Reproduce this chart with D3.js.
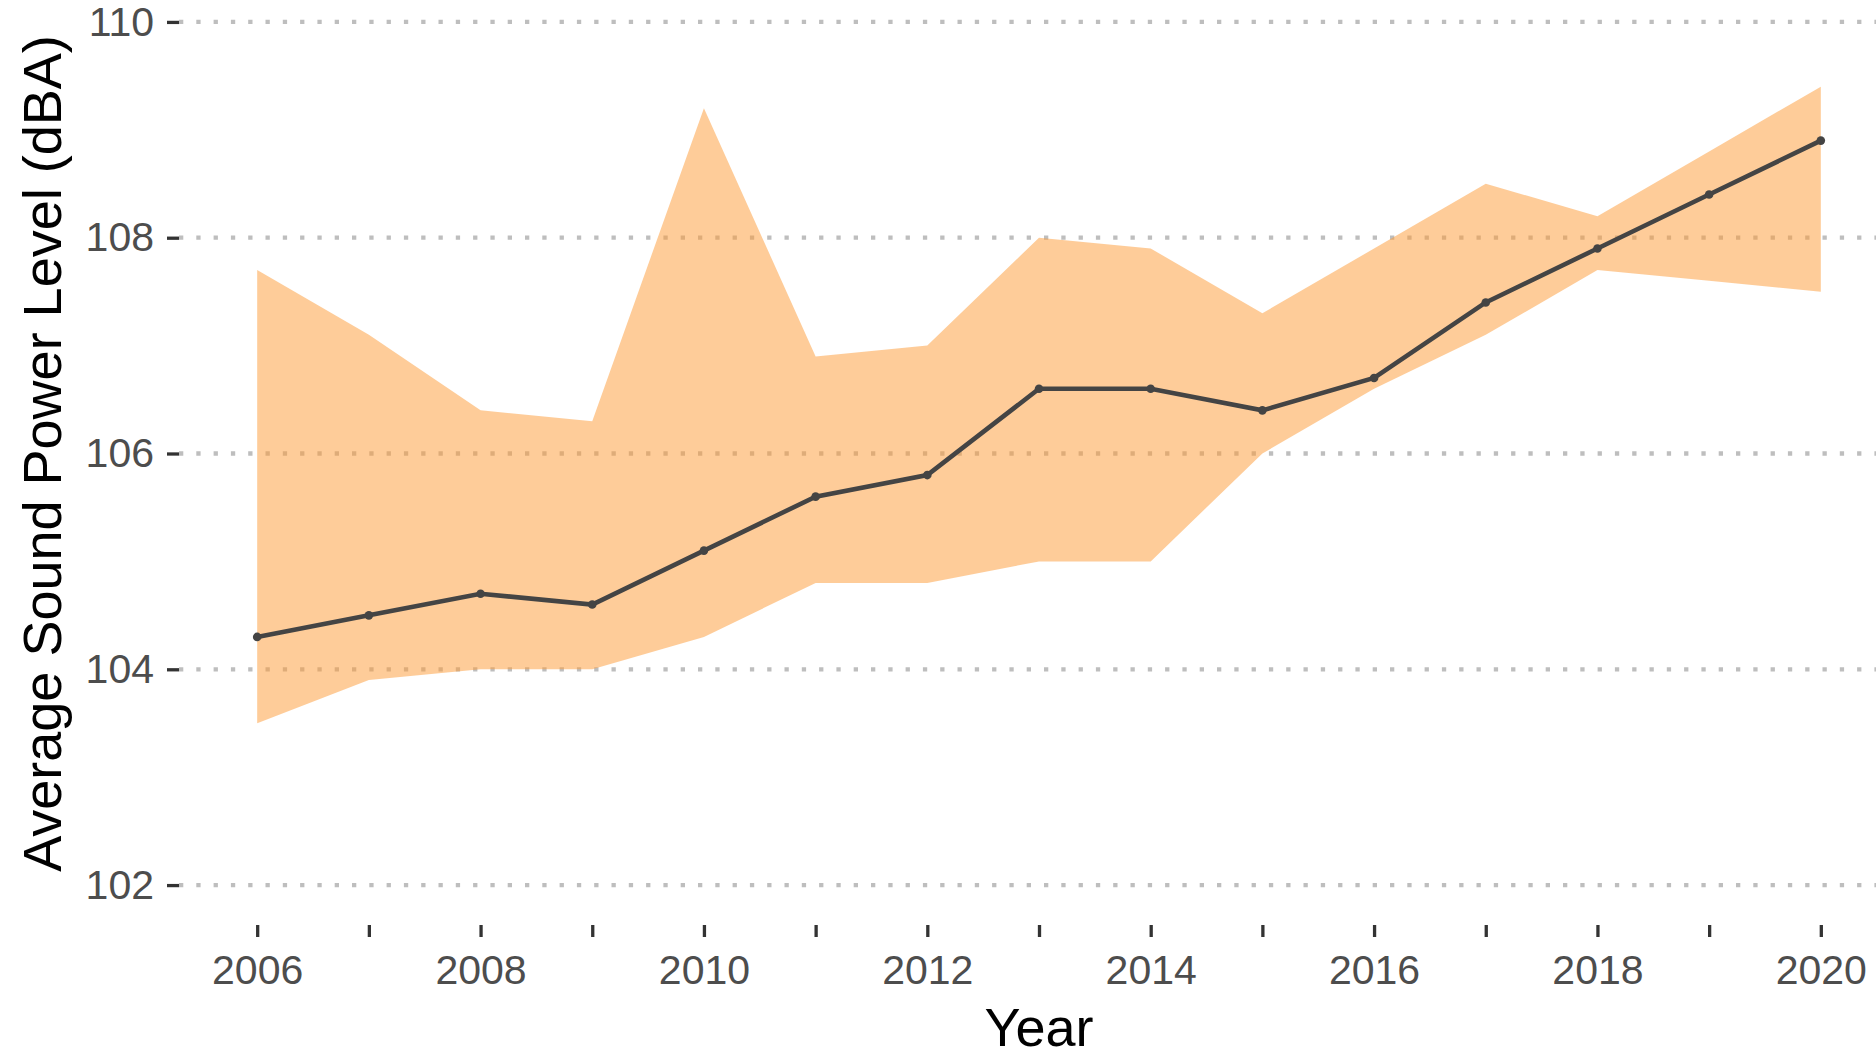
<!DOCTYPE html>
<html>
<head>
<meta charset="utf-8">
<script src="https://cdn.jsdelivr.net/npm/d3@7"></script>
<style>
  body { margin: 0; background: white; }
  #chart text { font-family: "Liberation Sans", Arial, sans-serif; }
</style>
</head>
<body>
<div id="chart"></div>
<script>
// data
const years = [2006, 2007, 2008, 2009, 2010, 2011, 2012, 2013, 2014, 2015, 2016, 2017, 2018, 2019, 2020];
const avgLevel = [104.3, 104.5, 104.7, 104.6, 105.1, 105.6, 105.8, 106.6, 106.6, 106.4, 106.7, 107.4, 107.9, 108.4, 108.9];
const upperLevel = [107.7, 107.1, 106.4, 106.3, 109.2, 106.9, 107.0, 108.0, 107.9, 107.3, 107.9, 108.5, 108.2, 108.8, 109.4];
const lowerLevel = [103.5, 103.9, 104.0, 104.0, 104.3, 104.8, 104.8, 105.0, 105.0, 106.0, 106.6, 107.1, 107.7, 107.6, 107.5];
const yTicks = [102, 104, 106, 108, 110];

const data = years.map((yr, i) => ({
  year: yr,
  avg: avgLevel[i],
  upper: upperLevel[i],
  lower: lowerLevel[i]
}));

let width = 1876;
let height = 1050;

let margin = {
  top: -18,
  bottom: 125,
  left: 179,
  right: -23
};

let svg = d3.select('#chart')
  .append('svg')
  .attr('width', width)
  .attr('height', height)
  .style('background', 'white');

// ggplot style expansion around the limits 2006-2020 / 102-110
let xScale = d3.scaleLinear()
  .domain([2005.3, 2020.7])
  .range([margin.left, width - margin.right]);

let yScale = d3.scaleLinear()
  .domain([101.63, 110.37])
  .range([height - margin.bottom, margin.top]);

// dotted horizontal grid
svg.append('g')
  .selectAll('line')
  .data(yTicks)
  .enter()
  .append('line')
  .attr('x1', margin.left)
  .attr('x2', width)
  .attr('y1', d => yScale(d))
  .attr('y2', d => yScale(d))
  .attr('stroke', '#bebebe')
  .attr('stroke-width', 4.3)
  .attr('stroke-dasharray', '4.3 13');

// range band
svg.append('path')
  .datum(data)
  .attr('fill', '#fe9a33')
  .attr('fill-opacity', 0.5)
  .attr('d', d3.area()
    .x(d => xScale(d.year))
    .y0(d => yScale(d.lower))
    .y1(d => yScale(d.upper))
  );

// average line and points
svg.append('path')
  .datum(data)
  .attr('fill', 'none')
  .attr('stroke', '#444444')
  .attr('stroke-width', 4.6)
  .attr('d', d3.line()
    .x(d => xScale(d.year))
    .y(d => yScale(d.avg))
  );

svg.append('g')
  .selectAll('circle')
  .data(data)
  .enter()
  .append('circle')
  .attr('cx', d => xScale(d.year))
  .attr('cy', d => yScale(d.avg))
  .attr('r', 4.3)
  .attr('fill', '#444444');

// y axis
let yAxis = svg.append('g')
  .attr('transform', `translate(${margin.left}, 0)`)
  .call(d3.axisLeft(yScale).tickValues(yTicks).tickSize(12).tickPadding(13).tickFormat(d3.format('d')));
yAxis.select('.domain').remove();
yAxis.selectAll('.tick line').attr('stroke', '#333333').attr('stroke-width', 3.3);
yAxis.selectAll('.tick text')
  .attr('fill', '#4d4d4d')
  .style('font-size', '41px');

// x axis, a tick each year, label every second year
let xAxis = svg.append('g')
  .attr('transform', `translate(0, ${height - margin.bottom})`)
  .call(d3.axisBottom(xScale).tickValues(years).tickSize(12).tickPadding(18)
    .tickFormat(d => d % 2 === 0 ? d : ''));
xAxis.select('.domain').remove();
xAxis.selectAll('.tick line').attr('stroke', '#333333').attr('stroke-width', 3.3);
xAxis.selectAll('.tick text')
  .attr('fill', '#4d4d4d')
  .style('font-size', '41px');

// axis titles
svg.append('text')
  .attr('x', (xScale.range()[0] + xScale.range()[1]) / 2)
  .attr('y', 1046)
  .attr('text-anchor', 'middle')
  .style('font-size', '54px')
  .attr('fill', 'black')
  .text('Year');

svg.append('text')
  .attr('transform', `translate(61, ${(yScale.range()[0] + yScale.range()[1]) / 2}) rotate(-90)`)
  .attr('text-anchor', 'middle')
  .style('font-size', '54px')
  .attr('fill', 'black')
  .text('Average Sound Power Level (dBA)');
</script>
</body>
</html>
